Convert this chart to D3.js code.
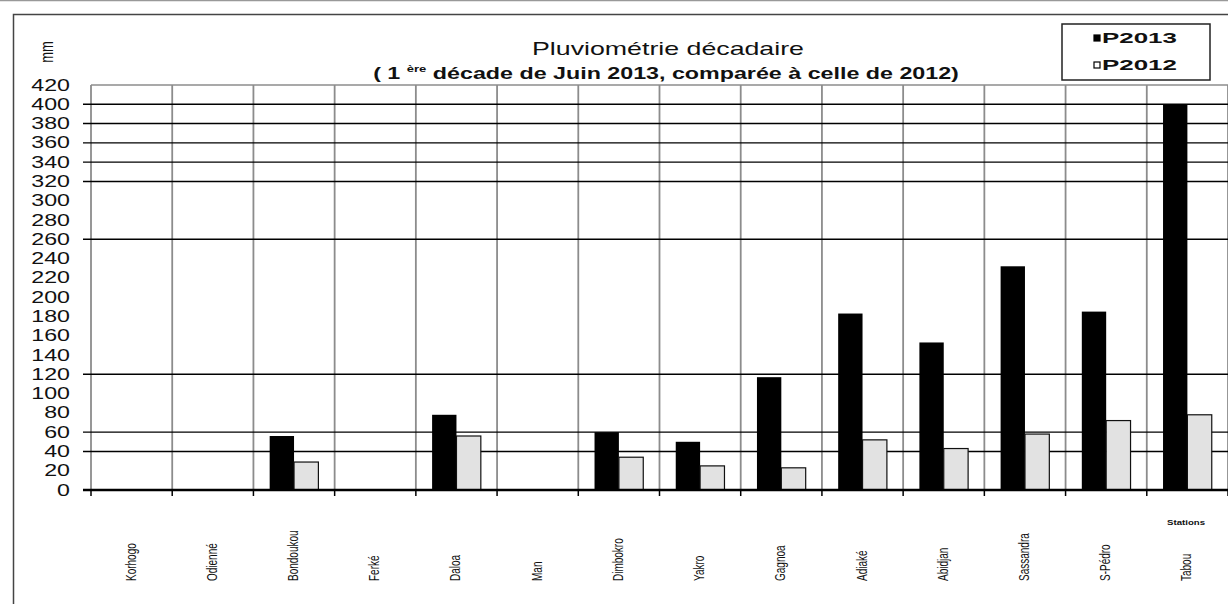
<!DOCTYPE html>
<html><head><meta charset="utf-8">
<script src="https://cdn.jsdelivr.net/npm/d3@7"></script>
<style>
html,body{margin:0;padding:0;background:#fff;}
svg{display:block;font-family:"Liberation Sans",Arial,sans-serif;}
</style></head>
<body><svg id="c" width="1228" height="604"></svg>
<script>
const stations = ["Korhogo","Odienné","Bondoukou","Ferké","Daloa","Man","Dimbokro","Yakro","Gagnoa","Adiaké","Abidjan","Sassandra","S-Pédro","Tabou"];
const p2013 = [0,0,56,0,78,0,60,50,117,183,153,232,185,400];
const p2012 = [0,0,29,0,56,0,34,25,23,52,43,58,72,78];
const seriesNames = ["P2013","P2012"];
const yTicks = d3.range(0,421,20);
const gridValues = [40,60,120,260,320,340,360,380,400];

(function(){
const svg = d3.select("#c");
const W = 1228, H = 604;
const pLeft = 91, pRight = 1228, pTop = 85, pBottom = 490;

svg.append("rect").attr("width",W).attr("height",H).attr("fill","#fff");
svg.append("line").attr("x1",0).attr("x2",W).attr("y1",0.5).attr("y2",0.5).attr("stroke","#999").attr("stroke-width",1.5);
svg.append("rect").attr("x",13.5).attr("y",14.5).attr("width",W).attr("height",H)
  .attr("fill","none").attr("stroke","#444").attr("stroke-width",1.5);

const x = d3.scaleBand().domain(stations).range([pLeft,pRight]).paddingInner(0).paddingOuter(0);
const bw = x.bandwidth();
const x1 = d3.scaleBand().domain(seriesNames).range([0.2*bw,0.8*bw]);
const y = d3.scaleLinear().domain([0,420]).range([pBottom,pTop]);

const bounds = stations.map(s => x(s)).concat([pRight]);
svg.append("g").selectAll("line").data(bounds).join("line")
  .attr("x1",d=>d).attr("x2",d=>d).attr("y1",pTop).attr("y2",pBottom)
  .attr("stroke","#8c8c8c").attr("stroke-width",1.8);
svg.append("line").attr("x1",pLeft).attr("x2",pRight).attr("y1",pTop).attr("y2",pTop)
  .attr("stroke","#8c8c8c").attr("stroke-width",1.5);

svg.append("g").selectAll("line").data(gridValues).join("line")
  .attr("x1",83).attr("x2",pRight).attr("y1",d=>y(d)).attr("y2",d=>y(d))
  .attr("stroke","#000").attr("stroke-width",1.4);

const data = stations.map((s,i)=>({s, vals:[{k:"P2013",v:p2013[i]},{k:"P2012",v:p2012[i]}]}));
const g = svg.append("g").selectAll("g").data(data).join("g").attr("transform",d=>`translate(${x(d.s)},0)`);
g.selectAll("rect").data(d=>d.vals.filter(e=>e.v>0)).join("rect")
  .attr("x",d=>x1(d.k)).attr("width",x1.bandwidth())
  .attr("y",d=>y(d.v)).attr("height",d=>y(0)-y(d.v))
  .attr("fill",d=>d.k==="P2013"?"#000":"#e2e2e2")
  .attr("stroke",d=>d.k==="P2013"?"none":"#111").attr("stroke-width",1.2);

svg.append("line").attr("x1",83).attr("x2",pRight).attr("y1",pBottom).attr("y2",pBottom)
  .attr("stroke","#000").attr("stroke-width",2.5);
svg.append("g").selectAll("line").data(bounds).join("line")
  .attr("x1",d=>d).attr("x2",d=>d).attr("y1",pBottom).attr("y2",pBottom+6)
  .attr("stroke","#000").attr("stroke-width",1.5);

const ya = svg.append("g").attr("transform",`translate(${pLeft},0)`)
  .call(d3.axisLeft(y).tickValues(yTicks).tickSize(0).tickPadding(0));
ya.select(".domain").remove();
ya.selectAll("text").attr("x",null).attr("font-size",16).attr("fill","#111")
  .attr("font-family","Liberation Sans, Arial, sans-serif")
  .attr("text-anchor","end").attr("transform","translate(-21,0) scale(1.45,1)");

svg.append("g").selectAll("text").data(stations).join("text")
  .attr("transform",d=>`translate(${x(d)+bw/2+4},581) scale(1.5,1) rotate(-90)`)
  .attr("text-anchor","start").attr("font-size",10).attr("fill","#111").text(d=>d);

function fitText(sel, target){
  const w = sel.node().getComputedTextLength();
  return target/w;
}
const t1 = svg.append("text").attr("text-anchor","middle").attr("font-size",19).attr("fill","#111")
  .text("Pluviométrie décadaire");
t1.attr("transform",`translate(668,55) scale(${fitText(t1,272)},1)`);
const t2 = svg.append("text").attr("text-anchor","middle").attr("font-size",16).attr("font-weight","bold").attr("fill","#111");
t2.append("tspan").text("( 1 ");
t2.append("tspan").attr("font-size",9).attr("dy",-7).text("ère");
t2.append("tspan").attr("dy",7).text(" décade de Juin 2013, comparée à celle de 2012)");
t2.attr("transform",`translate(666,79) scale(${fitText(t2,586)},1)`);

svg.append("text").attr("transform","translate(53,52) scale(1.4,1) rotate(-90)")
  .attr("text-anchor","middle").attr("font-size",13).attr("fill","#111").text("mm");

svg.append("rect").attr("x",1062).attr("y",24).attr("width",148).attr("height",56)
  .attr("fill","#fff").attr("stroke","#222").attr("stroke-width",1.5);
const lg = svg.append("g").selectAll("g").data(seriesNames).join("g")
  .attr("transform",(d,i)=>`translate(1094,${35+i*27})`);
lg.append("rect").attr("width",6).attr("height",6)
  .attr("fill",d=>d==="P2013"?"#000":"#fff").attr("stroke","#000").attr("stroke-width",1.2);
lg.append("text").attr("x",0).attr("y",8).attr("font-size",15).attr("font-weight","bold").attr("fill","#111")
  .text(d=>d).each(function(){
    const s = d3.select(this); const k = fitText(s,75);
    s.attr("transform",`translate(8,0) scale(${k},1)`);
  });

const st = svg.append("text").attr("text-anchor","middle").attr("font-size",8).attr("font-weight","bold").attr("fill","#111").text("Stations");
st.attr("transform",`translate(1186,525) scale(${fitText(st,38)},1)`);
})();
</script></body></html>
